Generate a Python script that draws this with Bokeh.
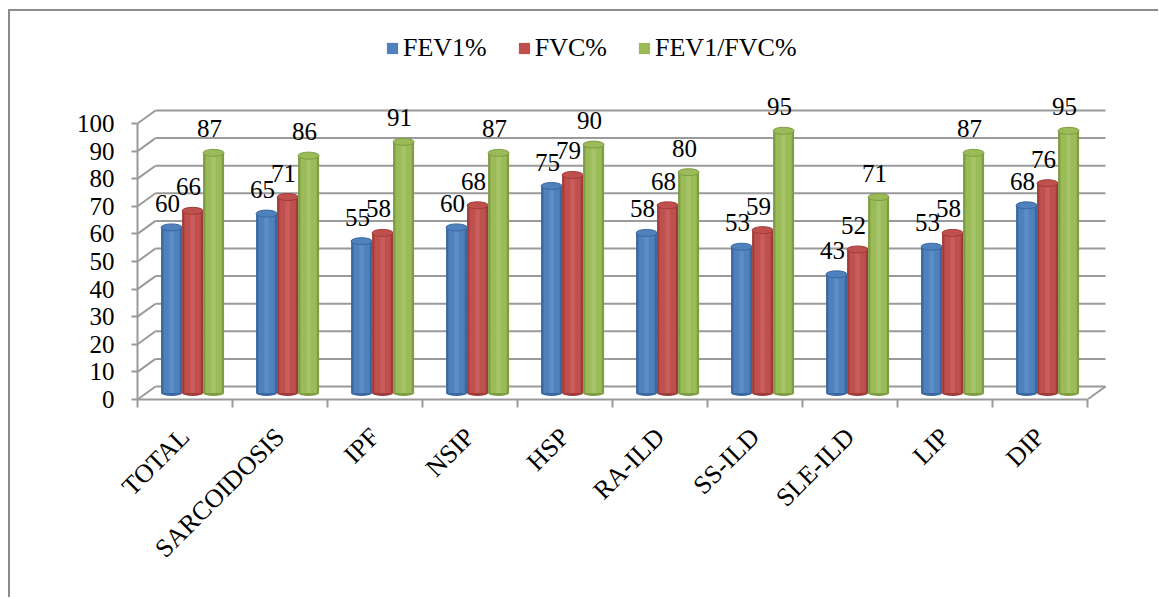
import math
from bokeh.plotting import figure
from bokeh.models import Range1d, FixedTicker, Legend, LegendItem, ColumnDataSource
from bokeh.core.properties import value
from bokeh.embed import file_html
from bokeh.resources import INLINE

# ---- data ----
categories = ["TOTAL", "SARCOIDOSIS", "IPF", "NSIP", "HSP",
              "RA-ILD", "SS-ILD", "SLE-ILD", "LIP", "DIP"]
fev1 = [60, 65, 55, 60, 75, 58, 53, 43, 53, 68]
fvc = [66, 71, 58, 68, 79, 68, 59, 52, 58, 76]
fev1_fvc = [87, 86, 91, 87, 90, 80, 95, 71, 87, 95]
series_names = ["FEV1%", "FVC%", "FEV1/FVC%"]
y_ticks = [0, 10, 20, 30, 40, 50, 60, 70, 80, 90, 100]

# ---- layout ----
W, H = 1150, 588
BL, BR, BT = 127, 43, 10
PX_X = 95.0      # pixels per category
PX_Y = 2.76      # pixels per unit
frame_w = W - BL - BR
frame_h = 378
BB = H - BT - frame_h
x_end = frame_w / PX_X
y_end = frame_h / PX_Y
DX = 18 / PX_X   # depth offset (back wall)
DY = 13 / PX_Y
BAR_W = 21 / PX_X
FONT = "Liberation Serif"
GRID = "#9a9a9a"

colors = [("#4F81BD", "#3A679F", "#6F9BD2"),
          ("#C0504D", "#9E3C39", "#D26F6C"),
          ("#9BBB59", "#7E9C42", "#B3D07A")]

p = figure(width=W, height=H, output_backend="svg", toolbar_location=None,
           x_range=Range1d(0, x_end), y_range=Range1d(0, y_end),
           min_border_left=BL, min_border_right=BR,
           min_border_top=BT, min_border_bottom=BB)
p.outline_line_color = None
p.xgrid.visible = False
p.ygrid.visible = False
p.background_fill_color = "white"
p.styles = {"border-left": "2px solid #8c8c8c", "border-top": "2px solid #8c8c8c",
            "margin-left": "8px", "margin-top": "9px"}

n = len(categories)
# back wall grid lines
p.segment(x0=[DX] * len(y_ticks), y0=[v + DY for v in y_ticks],
          x1=[n + DX] * len(y_ticks), y1=[v + DY for v in y_ticks],
          line_color=GRID, line_width=2)
# left wall diagonals
p.segment(x0=[0] * len(y_ticks), y0=y_ticks,
          x1=[DX] * len(y_ticks), y1=[v + DY for v in y_ticks],
          line_color=GRID, line_width=2)
# floor right edge
p.segment(x0=[n], y0=[0], x1=[n + DX], y1=[DY], line_color=GRID, line_width=2)

series = [fev1, fvc, fev1_fvc]
legend_items = []
b0 = DY / 2
for i, vals in enumerate(series):
    main, dark, light = colors[i]
    xs = [k + 0.5 + DX / 2 - 0.015 + (i - 1) * BAR_W for k in range(n)]
    tops = [v + b0 for v in vals]
    src = ColumnDataSource(dict(x=xs, top=tops, bottom=[b0] * n,
                                lab=[str(v) for v in vals]))
    p.ellipse(x="x", y="bottom", width=BAR_W, height=6, height_units="screen",
              fill_color=dark, line_color=None, source=src)
    p.vbar(x="x", top="top", bottom="bottom", width=BAR_W, fill_color=dark,
           line_color=None, source=src)
    r = p.vbar(x="x", top="top", bottom="bottom", width=BAR_W * 0.78,
               fill_color=main, line_color=None, source=src)
    p.vbar(x="x", top="top", bottom="bottom", width=BAR_W * 0.22,
           fill_color=light, fill_alpha=0.45, line_color=None, source=src)
    p.ellipse(x="x", y="top", width=BAR_W, height=7, height_units="screen",
              fill_color=main, line_color=dark, line_width=1, source=src)
    p.text(x="x", y="top", text="lab", source=src, text_font=value(FONT),
           text_font_size="25px", text_color="black", text_align="center",
           text_baseline="middle", x_offset=-4, y_offset=-24)
    legend_items.append(LegendItem(label=series_names[i], renderers=[r]))

legend = Legend(items=legend_items, orientation="horizontal",
                location=(248, frame_h - 42), label_text_font=FONT,
                label_text_font_size="26px", label_text_color="black",
                glyph_width=14, glyph_height=14, label_standoff=4, spacing=30,
                padding=0, margin=0, border_line_color=None,
                background_fill_alpha=0)
p.add_layout(legend)

# y axis
ya = p.yaxis[0]
ya.ticker = FixedTicker(ticks=y_ticks)
ya.bounds = (0, 100)
ya.axis_line_color = GRID
ya.axis_line_width = 2
ya.major_tick_line_color = GRID
ya.major_tick_line_width = 2
ya.major_tick_out = 6
ya.major_tick_in = 0
ya.minor_tick_out = 0
ya.minor_tick_in = 0
ya.major_label_text_font = FONT
ya.major_label_text_font_size = "25px"
ya.major_label_text_color = "black"
ya.major_label_standoff = 17

# x axis
xa = p.xaxis[0]
centers = [k + 0.5 for k in range(n)]
xa.ticker = FixedTicker(ticks=centers, minor_ticks=list(range(n + 1)))
xa.major_label_overrides = {c: categories[k] for k, c in enumerate(centers)}
xa.bounds = (0, n)
xa.axis_line_color = GRID
xa.axis_line_width = 2
xa.major_tick_out = 0
xa.major_tick_in = 0
xa.minor_tick_line_color = GRID
xa.minor_tick_line_width = 2
xa.minor_tick_out = 8
xa.minor_tick_in = 0
xa.major_label_orientation = math.pi / 4
xa.major_label_text_font = FONT
xa.major_label_text_font_size = "26px"
xa.major_label_text_color = "black"
xa.major_label_standoff = 25

open("out.html", "w").write(file_html(p, INLINE))
